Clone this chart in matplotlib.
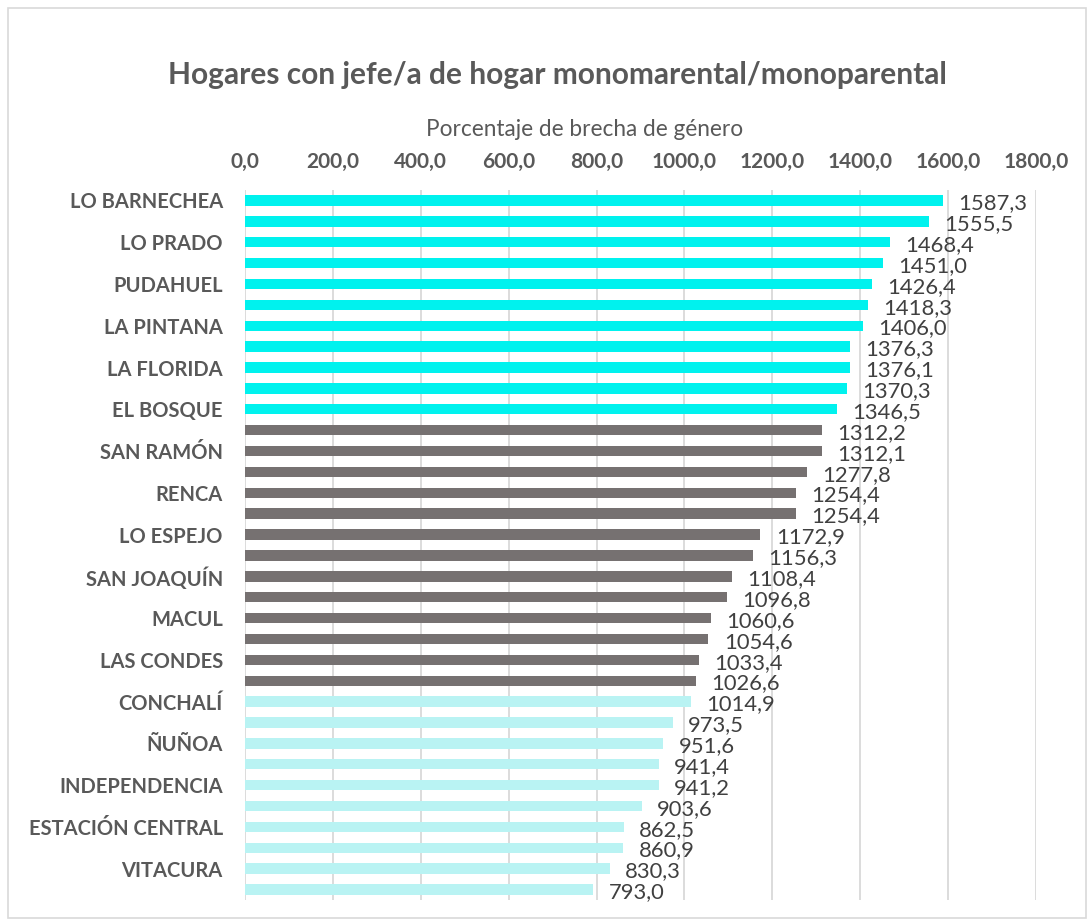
import matplotlib.pyplot as plt
import numpy as np
from matplotlib.patches import Rectangle
from matplotlib.ticker import FuncFormatter

plt.rcParams['font.family'] = ['Lato', 'DejaVu Sans']

TITLE = 'Hogares con jefe/a de hogar monomarental/monoparental'
AXIS_LABEL = 'Porcentaje de brecha de género'

# one value per bar, top to bottom; only every other bar has a name
VALUES = [1587.3, 1555.5, 1468.4, 1451.0, 1426.4, 1418.3, 1406.0, 1376.3, 1376.1,
          1370.3, 1346.5, 1312.2, 1312.1, 1277.8, 1254.4, 1254.4, 1172.9, 1156.3,
          1108.4, 1096.8, 1060.6, 1054.6, 1033.4, 1026.6, 1014.9, 973.5, 951.6,
          941.4, 941.2, 903.6, 862.5, 860.9, 830.3, 793.0]
NAMES = ['LO BARNECHEA', '', 'LO PRADO', '', 'PUDAHUEL', '', 'LA PINTANA', '',
         'LA FLORIDA', '', 'EL BOSQUE', '', 'SAN RAMÓN', '', 'RENCA', '',
         'LO ESPEJO', '', 'SAN JOAQUÍN', '', 'MACUL', '', 'LAS CONDES', '',
         'CONCHALÍ', '', 'ÑUÑOA', '', 'INDEPENDENCIA', '', 'ESTACIÓN CENTRAL', '',
         'VITACURA', '']
GROUP_SIZES = [11, 13, 10]
GROUP_COLORS = ['#00F2EE', '#767171', '#B9F3F3']
X_TICKS = [0, 200, 400, 600, 800, 1000, 1200, 1400, 1600, 1800]

TEXT_GRAY = '#595959'

colors = []
for size, color in zip(GROUP_SIZES, GROUP_COLORS):
  colors += [color] * size

fig = plt.figure(figsize=(10.88, 9.21), dpi=100)
ax = fig.add_axes([245 / 1088, 1 - 900 / 921, (1036 - 245) / 1088, (900 - 190) / 921])

y = np.arange(len(VALUES))
ax.barh(y, VALUES, height=0.5, color=colors, zorder=3)
ax.set_ylim(len(VALUES) - 0.5, -0.5)
ax.set_xlim(0, 1800)

ax.xaxis.tick_top()
ax.set_xticks(X_TICKS)
ax.xaxis.set_major_formatter(FuncFormatter(lambda v, _: f'{v:.1f}'.replace('.', ',')))
ax.tick_params(axis='x', length=0, pad=13, labelsize=15, labelcolor=TEXT_GRAY)
for lbl in ax.get_xticklabels():
  lbl.set_fontweight('bold')

ax.set_yticks(y)
ax.set_yticklabels(NAMES, fontsize=14.5, fontweight='bold', color=TEXT_GRAY)
ax.tick_params(axis='y', length=0, pad=16)

ax.grid(axis='x', color='#D9D9D9', linewidth=1.3, zorder=0)
for spine in ax.spines.values():
  spine.set_visible(False)

for yi, v in zip(y, VALUES):
  ax.annotate(f'{v:.1f}'.replace('.', ','), (v, yi), xytext=(11, -2),
              textcoords='offset points', ha='left', va='center',
              fontsize=15.8, color='#404040')

fig.text(557 / 1088, 1 - 75 / 921, TITLE, ha='center', va='center',
         fontsize=21.5, fontweight='bold', color=TEXT_GRAY)
fig.text(585 / 1088, 1 - 129 / 921, AXIS_LABEL, ha='center', va='center',
         fontsize=16.3, color=TEXT_GRAY)

# outer chart frame
fig.patches.append(Rectangle((8 / 1088, 3 / 921), 1078 / 1088, 910 / 921,
                             transform=fig.transFigure, fill=False,
                             edgecolor='#D9D9D9', linewidth=1.2))

fig.savefig('out.png', dpi=100)
